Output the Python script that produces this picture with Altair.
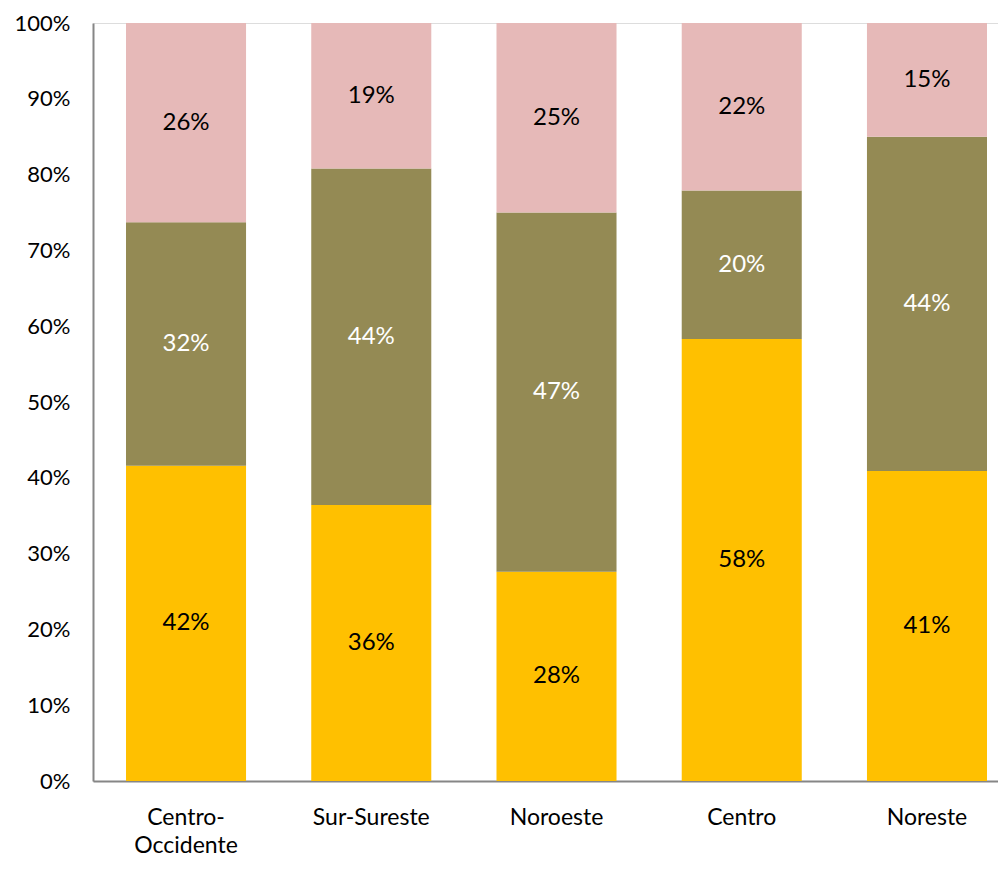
import altair as alt
import pandas as pd

regiones = ["Centro-Occidente", "Sur-Sureste", "Noroeste", "Centro", "Noreste"]
serie_amarilla = [0.416, 0.364, 0.276, 0.583, 0.409]
serie_olivo = [0.321, 0.444, 0.474, 0.196, 0.441]
serie_rosa = [0.263, 0.192, 0.250, 0.221, 0.150]
series = ["Serie 1", "Serie 2", "Serie 3"]
colores = ["#FFC000", "#948A54", "#E6B9B8"]
colores_texto = ["#000000", "#FFFFFF", "#000000"]

rows = []
for i, reg in enumerate(regiones):
    vals = [serie_amarilla[i], serie_olivo[i], serie_rosa[i]]
    base = 0.0
    for j, v in enumerate(vals):
        rows.append({
            "region": reg,
            "serie": series[j],
            "orden": j,
            "valor": v,
            "lo": base,
            "hi": base + v,
            "mid": base + v / 2,
            "etiqueta": f"{round(v * 100):.0f}%",
            "color_texto": colores_texto[j],
        })
        base += v
df = pd.DataFrame(rows)

FONT = "Lato"

x = alt.X(
    "region:N",
    sort=regiones,
    scale=alt.Scale(paddingInner=0.352, paddingOuter=0.1188, align=0.75),
    axis=alt.Axis(
        title=None,
        labelAngle=0,
        labelFont=FONT,
        labelFontSize=23,
        labelColor="#000000",
        labelPadding=25,
        labelLineHeight=28,
        labelBaseline="top",
        labelExpr="datum.value == 'Centro-Occidente' ? ['Centro-', 'Occidente'] : datum.value",
        ticks=False,
        domainColor="#868686",
        domainWidth=2,
    ),
)

base = alt.Chart(df)

bars = base.mark_bar().encode(
    x=x,
    y=alt.Y(
        "lo:Q",
        scale=alt.Scale(domain=[0, 1], nice=False),
        axis=alt.Axis(
            title=None,
            format=".0%",
            values=[i / 10 for i in range(11)],
            grid=False,
            ticks=False,
            labelFont=FONT,
            labelFontSize=22,
            labelColor="#000000",
            labelPadding=23,
            domainColor="#868686",
            domainWidth=2,
        ),
    ),
    y2="hi:Q",
    color=alt.Color(
        "serie:N",
        scale=alt.Scale(domain=series, range=colores),
        legend=None,
    ),
)

labels = base.mark_text(font=FONT, fontSize=24, align="center", baseline="middle").encode(
    x=alt.X("region:N", sort=regiones),
    y=alt.Y("mid:Q"),
    text="etiqueta:N",
    color=alt.Color("color_texto:N", scale=None),
)

chart = (
    alt.layer(bars, labels)
    .properties(
        width=905,
        height=758,
        autosize=alt.AutoSizeParams(type="none"),
        padding={"left": 85, "top": 15, "right": 0, "bottom": 80},
    )
    .configure_view(stroke=None)
    .configure(background="#FFFFFF")
)

chart.save("out.html", embed_options={"renderer": "svg", "actions": False})
